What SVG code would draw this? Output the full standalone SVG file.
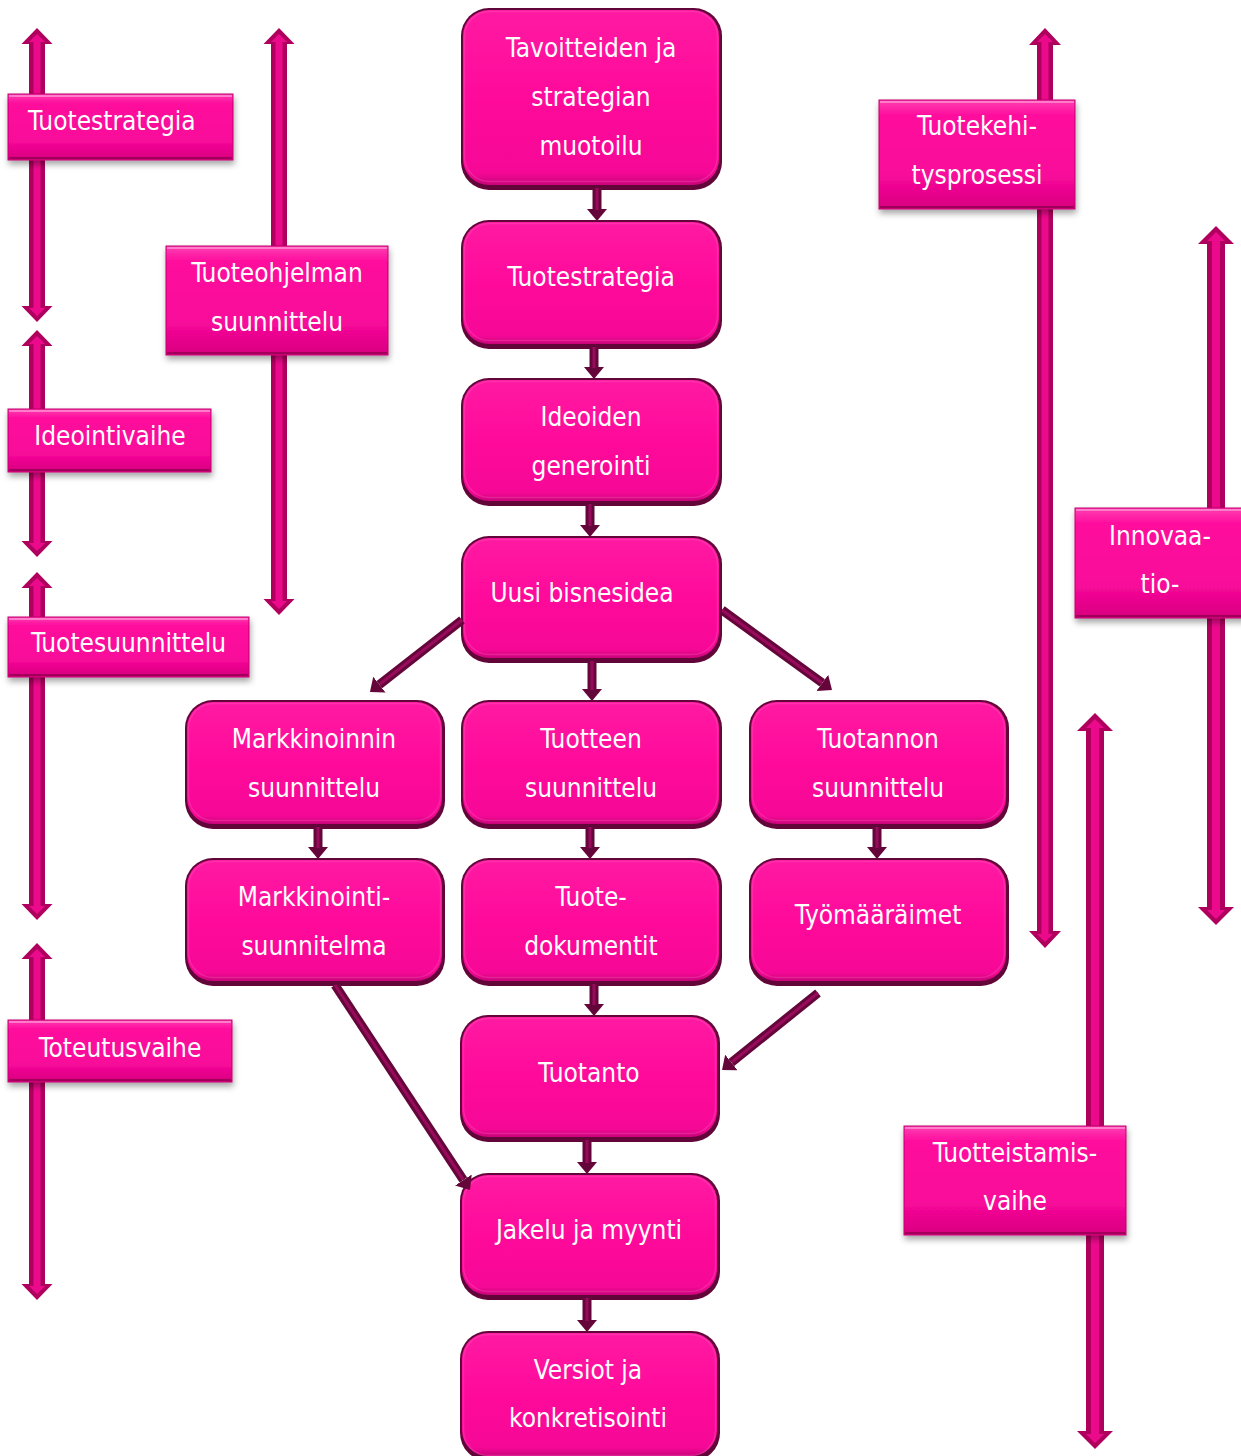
<svg xmlns="http://www.w3.org/2000/svg" width="1241" height="1456" viewBox="0 0 1241 1456">
  <style>
    .t { font-family: "DejaVu Sans Condensed", "DejaVu Sans", "Liberation Sans", sans-serif; font-stretch: condensed; font-size: 26px; fill: #ffffff; text-anchor: middle; }
    .tl { text-anchor: start; }
    .nb { fill: #620639; }
    .nf { fill: url(#nodeFill); }
    .nh { fill: none; stroke: #ff63c0; stroke-width: 1.5; opacity: 0.3; }
    .bo { fill: #b0005e; }
    .bi { fill: #ec0a8c; }
    .lb { fill: url(#labelFill); stroke: #c2006f; stroke-width: 1; filter: url(#shadow); }
    .lt { fill: none; stroke: #ff7ccb; stroke-width: 2; }
    .lbot { fill: none; stroke: #a0005a; stroke-width: 2; }
    .cw { stroke: #640639; stroke-width: 9; fill: none; }
    .cl { stroke: #980b5c; stroke-width: 3; fill: none; }
  </style>
  <defs>
    <linearGradient id="nodeFill" x1="0" y1="0" x2="0" y2="1">
      <stop offset="0" stop-color="#ff1aa2"/>
      <stop offset="0.5" stop-color="#ff0a9b"/>
      <stop offset="0.93" stop-color="#f60897"/>
      <stop offset="1" stop-color="#c80479"/>
    </linearGradient>
    <linearGradient id="labelFill" x1="0" y1="0" x2="0" y2="1">
      <stop offset="0" stop-color="#ff3fb2"/>
      <stop offset="0.15" stop-color="#ff0a9c"/>
      <stop offset="0.7" stop-color="#f8089a"/>
      <stop offset="1" stop-color="#d8007f"/>
    </linearGradient>
    <filter id="shadow" x="-10%" y="-20%" width="125%" height="150%">
      <feDropShadow dx="1" dy="4" stdDeviation="3" flood-color="#000" flood-opacity="0.35"/>
    </filter>
    <marker id="head" viewBox="0 0 12 20" markerWidth="12" markerHeight="20" refX="0" refY="10" orient="auto" markerUnits="userSpaceOnUse">
      <path d="M0,0 L12,10 L0,20 Z" fill="#640639"/>
    </marker>
  </defs>

  <!-- phase bars: double-headed arrows -->
  <g id="bars">
    <g id="bar-tuotestrategia">
      <path class="bo" d="M37,28 L52.5,44 L45,44 L45,306 L52.5,306 L37,322 L21.5,306 L29,306 L29,44 L21.5,44 Z"/>
      <path class="bi" d="M37,34 L45,42 L40.5,42 L40.5,308 L45,308 L37,316 L29,308 L33.5,308 L33.5,42 L29,42 Z"/>
    </g>
    <g id="bar-ideointi">
      <path class="bo" d="M37,330 L52.5,346 L45,346 L45,541 L52.5,541 L37,557 L21.5,541 L29,541 L29,346 L21.5,346 Z"/>
      <path class="bi" d="M37,336 L45,344 L40.5,344 L40.5,543 L45,543 L37,551 L29,543 L33.5,543 L33.5,344 L29,344 Z"/>
    </g>
    <g id="bar-tuotesuunnittelu">
      <path class="bo" d="M37,572 L52.5,588 L45,588 L45,904 L52.5,904 L37,920 L21.5,904 L29,904 L29,588 L21.5,588 Z"/>
      <path class="bi" d="M37,578 L45,586 L40.5,586 L40.5,906 L45,906 L37,914 L29,906 L33.5,906 L33.5,586 L29,586 Z"/>
    </g>
    <g id="bar-toteutus">
      <path class="bo" d="M37,943 L52.5,959 L45,959 L45,1284 L52.5,1284 L37,1300 L21.5,1284 L29,1284 L29,959 L21.5,959 Z"/>
      <path class="bi" d="M37,949 L45,957 L40.5,957 L40.5,1286 L45,1286 L37,1294 L29,1286 L33.5,1286 L33.5,957 L29,957 Z"/>
    </g>
    <g id="bar-tuoteohjelma">
      <path class="bo" d="M279,28 L294.5,44 L287,44 L287,599 L294.5,599 L279,615 L263.5,599 L271,599 L271,44 L263.5,44 Z"/>
      <path class="bi" d="M279,34 L287,42 L282.5,42 L282.5,601 L287,601 L279,609 L271,601 L275.5,601 L275.5,42 L271,42 Z"/>
    </g>
    <g id="bar-tuotekehitys">
      <path class="bo" d="M1045,28 L1061,45 L1053,45 L1053,931 L1061,931 L1045,948 L1029,931 L1037,931 L1037,45 L1029,45 Z"/>
      <path class="bi" d="M1045,34 L1053,42 L1048.5,42 L1048.5,934 L1053,934 L1045,942 L1037,934 L1041.5,934 L1041.5,42 L1037,42 Z"/>
    </g>
    <g id="bar-innovaatio">
      <path class="bo" d="M1216,226 L1234,244 L1225,244 L1225,907 L1234,907 L1216,925 L1198,907 L1207,907 L1207,244 L1198,244 Z"/>
      <path class="bi" d="M1216,232 L1225,241 L1220,241 L1220,910 L1225,910 L1216,919 L1207,910 L1212,910 L1212,241 L1207,241 Z"/>
    </g>
    <g id="bar-tuotteistaminen">
      <path class="bo" d="M1095,713 L1113,731 L1104,731 L1104,1431 L1113,1431 L1095,1449 L1077,1431 L1086,1431 L1086,731 L1077,731 Z"/>
      <path class="bi" d="M1095,719 L1104,728 L1099,728 L1099,1434 L1104,1434 L1095,1443 L1086,1434 L1091,1434 L1091,728 L1086,728 Z"/>
    </g>
  </g>

  <!-- phase labels -->
  <g id="label-tuotestrategia">
    <rect class="lb" x="8" y="94" width="225" height="66"/>
    <path class="lt" d="M9,96 H232"/><path class="lbot" d="M9,158 H232"/>
    <text class="t tl" x="28" y="130">Tuotestrategia</text>
  </g>
  <g id="label-tuoteohjelma">
    <rect class="lb" x="166" y="246" width="222" height="109"/>
    <path class="lt" d="M167,248 H387"/><path class="lbot" d="M167,353 H387"/>
    <text class="t" x="277" y="282">Tuoteohjelman</text>
    <text class="t" x="277" y="331">suunnittelu</text>
  </g>
  <g id="label-ideointivaihe">
    <rect class="lb" x="8" y="409" width="203" height="63"/>
    <path class="lt" d="M9,411 H210"/><path class="lbot" d="M9,470 H210"/>
    <text class="t" x="110" y="445">Ideointivaihe</text>
  </g>
  <g id="label-tuotesuunnittelu">
    <rect class="lb" x="8" y="617" width="241" height="60"/>
    <path class="lt" d="M9,619 H248"/><path class="lbot" d="M9,675 H248"/>
    <text class="t" x="128.5" y="652">Tuotesuunnittelu</text>
  </g>
  <g id="label-toteutusvaihe">
    <rect class="lb" x="8" y="1020" width="224" height="62"/>
    <path class="lt" d="M9,1022 H231"/><path class="lbot" d="M9,1080 H231"/>
    <text class="t" x="120" y="1057">Toteutusvaihe</text>
  </g>
  <g id="label-tuotekehitys">
    <rect class="lb" x="879" y="100" width="196" height="109"/>
    <path class="lt" d="M880,102 H1074"/><path class="lbot" d="M880,207 H1074"/>
    <text class="t" x="977" y="135">Tuotekehi-</text>
    <text class="t" x="977" y="184">tysprosessi</text>
  </g>
  <g id="label-innovaatio">
    <rect class="lb" x="1075" y="508" width="170" height="110"/>
    <path class="lt" d="M1076,510 H1241"/><path class="lbot" d="M1076,616 H1241"/>
    <text class="t" x="1160" y="545">Innovaa-</text>
    <text class="t" x="1160" y="593">tio-</text>
  </g>
  <g id="label-tuotteistaminen">
    <rect class="lb" x="904" y="1126" width="222" height="109"/>
    <path class="lt" d="M905,1128 H1125"/><path class="lbot" d="M905,1233 H1125"/>
    <text class="t" x="1015" y="1162">Tuotteistamis-</text>
    <text class="t" x="1015" y="1210">vaihe</text>
  </g>

  <!-- process nodes -->
  <g id="n-tavoitteet">
    <rect class="nb" x="461" y="8" width="261" height="182" rx="28"/>
    <rect class="nf" x="463" y="10" width="256" height="175" rx="26"/>
    <rect class="nh" x="464.5" y="11.5" width="253" height="170" rx="25"/>
    <text class="t" x="591" y="57">Tavoitteiden ja</text>
    <text class="t" x="591" y="106">strategian</text>
    <text class="t" x="591" y="155">muotoilu</text>
  </g>
  <g id="n-tuotestrategia">
    <rect class="nb" x="461" y="220" width="261" height="129" rx="28"/>
    <rect class="nf" x="463" y="222" width="256" height="122" rx="26"/>
    <rect class="nh" x="464.5" y="223.5" width="253" height="117" rx="25"/>
    <text class="t" x="591" y="286">Tuotestrategia</text>
  </g>
  <g id="n-ideoiden">
    <rect class="nb" x="461" y="378" width="261" height="128" rx="28"/>
    <rect class="nf" x="463" y="380" width="256" height="121" rx="26"/>
    <rect class="nh" x="464.5" y="381.5" width="253" height="116" rx="25"/>
    <text class="t" x="591" y="426">Ideoiden</text>
    <text class="t" x="591" y="475">generointi</text>
  </g>
  <g id="n-bisnesidea">
    <rect class="nb" x="461" y="536" width="261" height="127" rx="28"/>
    <rect class="nf" x="463" y="538" width="256" height="120" rx="26"/>
    <rect class="nh" x="464.5" y="539.5" width="253" height="115" rx="25"/>
    <text class="t" x="582" y="602">Uusi bisnesidea</text>
  </g>
  <g id="n-markkinoinnin">
    <rect class="nb" x="185" y="700" width="260" height="129" rx="28"/>
    <rect class="nf" x="187" y="702" width="255" height="122" rx="26"/>
    <rect class="nh" x="188.5" y="703.5" width="252" height="117" rx="25"/>
    <text class="t" x="314" y="748">Markkinoinnin</text>
    <text class="t" x="314" y="797">suunnittelu</text>
  </g>
  <g id="n-tuotteen">
    <rect class="nb" x="461" y="700" width="261" height="129" rx="28"/>
    <rect class="nf" x="463" y="702" width="256" height="122" rx="26"/>
    <rect class="nh" x="464.5" y="703.5" width="253" height="117" rx="25"/>
    <text class="t" x="591" y="748">Tuotteen</text>
    <text class="t" x="591" y="797">suunnittelu</text>
  </g>
  <g id="n-tuotannon">
    <rect class="nb" x="749" y="700" width="260" height="129" rx="28"/>
    <rect class="nf" x="751" y="702" width="255" height="122" rx="26"/>
    <rect class="nh" x="752.5" y="703.5" width="252" height="117" rx="25"/>
    <text class="t" x="878" y="748">Tuotannon</text>
    <text class="t" x="878" y="797">suunnittelu</text>
  </g>
  <g id="n-markkinointisuunnitelma">
    <rect class="nb" x="185" y="858" width="260" height="128" rx="28"/>
    <rect class="nf" x="187" y="860" width="255" height="121" rx="26"/>
    <rect class="nh" x="188.5" y="861.5" width="252" height="116" rx="25"/>
    <text class="t" x="314" y="906">Markkinointi-</text>
    <text class="t" x="314" y="955">suunnitelma</text>
  </g>
  <g id="n-tuotedokumentit">
    <rect class="nb" x="461" y="858" width="261" height="128" rx="28"/>
    <rect class="nf" x="463" y="860" width="256" height="121" rx="26"/>
    <rect class="nh" x="464.5" y="861.5" width="253" height="116" rx="25"/>
    <text class="t" x="591" y="906">Tuote-</text>
    <text class="t" x="591" y="955">dokumentit</text>
  </g>
  <g id="n-tyomaaraimet">
    <rect class="nb" x="749" y="858" width="260" height="128" rx="28"/>
    <rect class="nf" x="751" y="860" width="255" height="121" rx="26"/>
    <rect class="nh" x="752.5" y="861.5" width="252" height="116" rx="25"/>
    <text class="t" x="878" y="924">Työmääräimet</text>
  </g>
  <g id="n-tuotanto">
    <rect class="nb" x="460" y="1015" width="260" height="127" rx="28"/>
    <rect class="nf" x="462" y="1017" width="255" height="120" rx="26"/>
    <rect class="nh" x="463.5" y="1018.5" width="252" height="115" rx="25"/>
    <text class="t" x="589" y="1082">Tuotanto</text>
  </g>
  <g id="n-jakelu">
    <rect class="nb" x="460" y="1173" width="260" height="127" rx="28"/>
    <rect class="nf" x="462" y="1175" width="255" height="120" rx="26"/>
    <rect class="nh" x="463.5" y="1176.5" width="252" height="115" rx="25"/>
    <text class="t" x="589" y="1239">Jakelu ja myynti</text>
  </g>
  <g id="n-versiot">
    <rect class="nb" x="460" y="1331" width="260" height="130" rx="28"/>
    <rect class="nf" x="462" y="1333" width="255" height="123" rx="26"/>
    <rect class="nh" x="463.5" y="1334.5" width="252" height="121" rx="25"/>
    <text class="t" x="588" y="1379">Versiot ja</text>
    <text class="t" x="588" y="1427">konkretisointi</text>
  </g>

  <!-- connectors -->
  <g id="connectors">
    <g id="c1"><line class="cw" x1="597" y1="188" x2="597" y2="209" marker-end="url(#head)"/><line class="cl" x1="597" y1="188" x2="597" y2="210"/></g>
    <g id="c2"><line class="cw" x1="594" y1="347" x2="594" y2="367" marker-end="url(#head)"/><line class="cl" x1="594" y1="347" x2="594" y2="368"/></g>
    <g id="c3"><line class="cw" x1="590" y1="504" x2="590" y2="525" marker-end="url(#head)"/><line class="cl" x1="590" y1="504" x2="590" y2="526"/></g>
    <g id="c4"><line class="cw" x1="592" y1="661" x2="592" y2="689" marker-end="url(#head)"/><line class="cl" x1="592" y1="661" x2="592" y2="690"/></g>
    <g id="c5"><line class="cw" x1="318" y1="827" x2="318" y2="847" marker-end="url(#head)"/><line class="cl" x1="318" y1="827" x2="318" y2="848"/></g>
    <g id="c6"><line class="cw" x1="590" y1="827" x2="590" y2="847" marker-end="url(#head)"/><line class="cl" x1="590" y1="827" x2="590" y2="848"/></g>
    <g id="c7"><line class="cw" x1="877" y1="827" x2="877" y2="847" marker-end="url(#head)"/><line class="cl" x1="877" y1="827" x2="877" y2="848"/></g>
    <g id="c8"><line class="cw" x1="594" y1="984" x2="594" y2="1004" marker-end="url(#head)"/><line class="cl" x1="594" y1="984" x2="594" y2="1005"/></g>
    <g id="c9"><line class="cw" x1="587" y1="1140" x2="587" y2="1162" marker-end="url(#head)"/><line class="cl" x1="587" y1="1140" x2="587" y2="1163"/></g>
    <g id="c10"><line class="cw" x1="587" y1="1298" x2="587" y2="1320" marker-end="url(#head)"/><line class="cl" x1="587" y1="1298" x2="587" y2="1321"/></g>
    <g id="c11"><line class="cw" x1="462" y1="620" x2="379.4" y2="684.6" marker-end="url(#head)"/><line class="cl" x1="462" y1="620" x2="380" y2="684"/></g>
    <g id="c12"><line class="cw" x1="722" y1="610" x2="822.3" y2="682.9" marker-end="url(#head)"/><line class="cl" x1="722" y1="610" x2="822" y2="682.7"/></g>
    <g id="c13"><line class="cw" x1="818" y1="993" x2="731.4" y2="1062.5" marker-end="url(#head)"/><line class="cl" x1="818" y1="993" x2="732" y2="1062"/></g>
    <g id="c14"><line class="cw" x1="335" y1="985" x2="463.4" y2="1180" marker-end="url(#head)"/><line class="cl" x1="335" y1="985" x2="463" y2="1179.4"/></g>
  </g>
</svg>
